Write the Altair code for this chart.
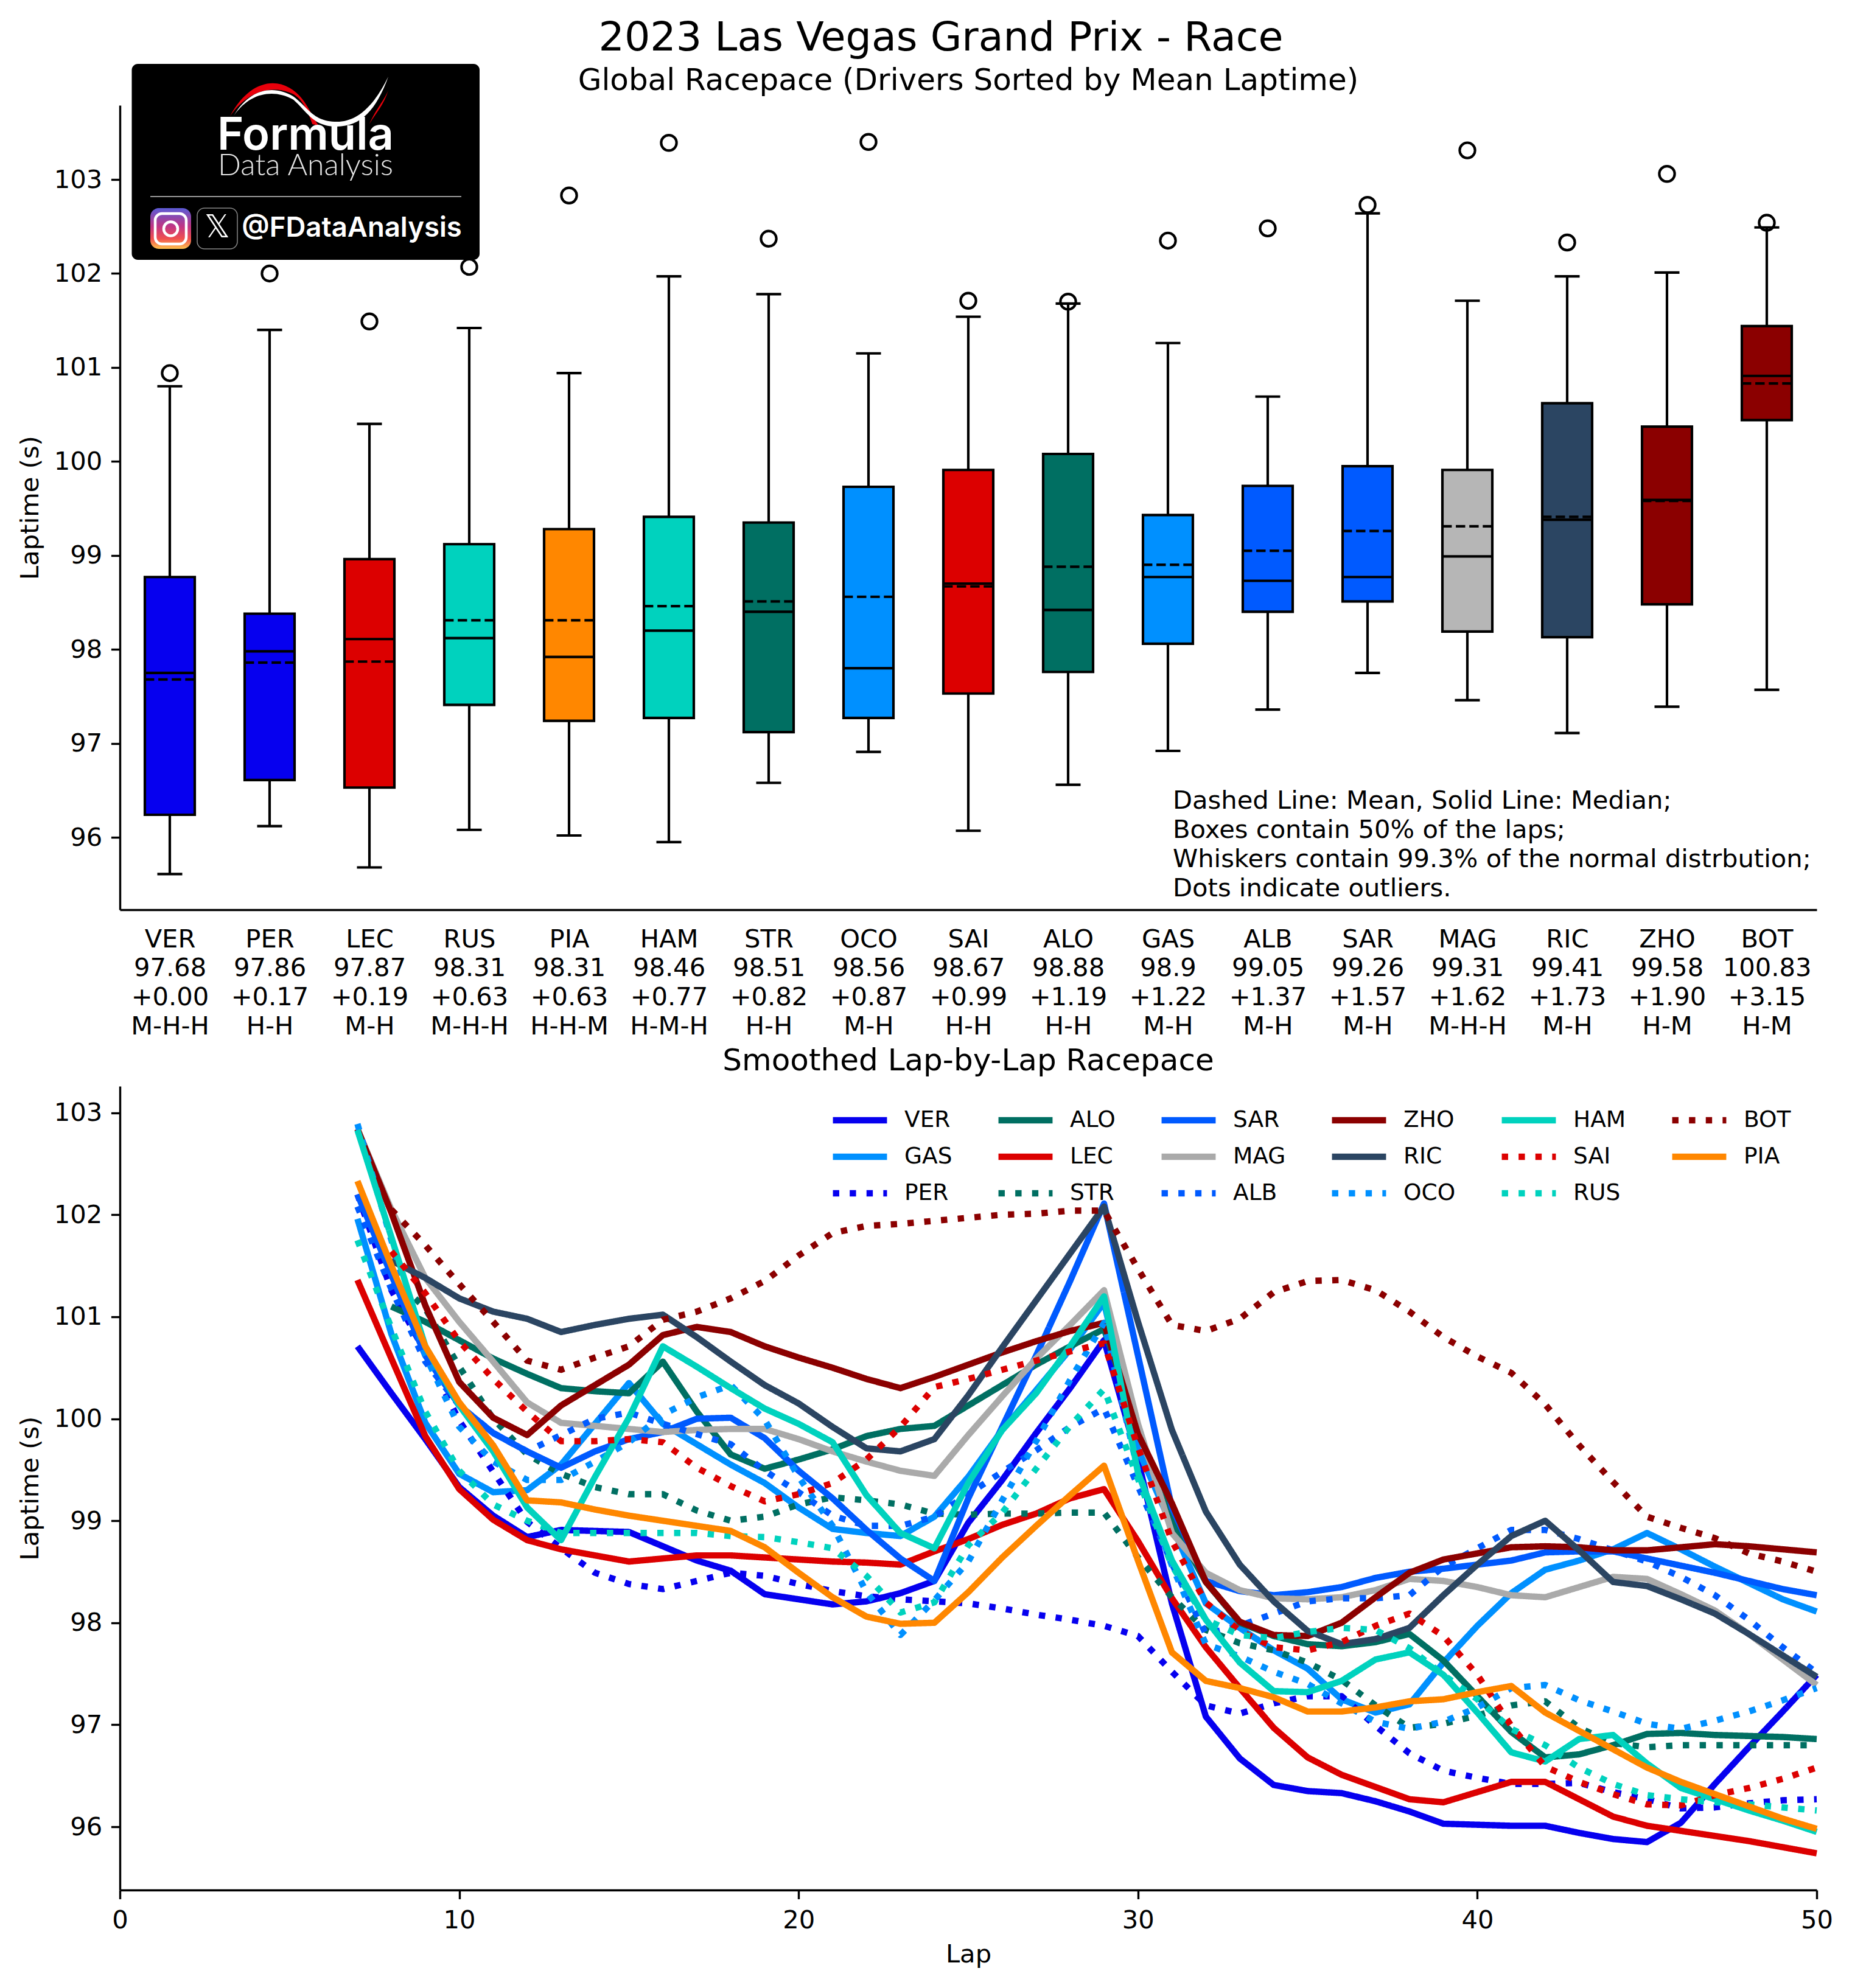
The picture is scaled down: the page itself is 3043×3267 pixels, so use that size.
import json
import altair as alt
import pandas as pd

FONT = "DejaVu Sans"
drivers = ["VER","PER","LEC","RUS","PIA","HAM","STR","OCO","SAI","ALO","GAS","ALB","SAR","MAG","RIC","ZHO","BOT"]
mean_txt = ["97.68","97.86","97.87","98.31","98.31","98.46","98.51","98.56","98.67","98.88","98.9","99.05","99.26","99.31","99.41","99.58","100.83"]
delta_txt = ["+0.00","+0.17","+0.19","+0.63","+0.63","+0.77","+0.82","+0.87","+0.99","+1.19","+1.22","+1.37","+1.57","+1.62","+1.73","+1.90","+3.15"]
tyres = ["M-H-H","H-H","M-H","M-H-H","H-H-M","H-M-H","H-H","M-H","H-H","H-H","M-H","M-H","M-H","M-H-H","M-H","H-M","H-M"]
q1 = [96.24,96.61,96.53,97.41,97.24,97.27,97.12,97.27,97.53,97.76,98.06,98.40,98.51,98.19,98.13,98.48,100.44]
q3 = [98.77,98.38,98.96,99.12,99.28,99.41,99.35,99.73,99.91,100.08,99.43,99.74,99.95,99.91,100.62,100.37,101.44]
median = [97.75,97.98,98.11,98.12,97.92,98.20,98.40,97.80,98.70,98.42,98.77,98.73,98.77,98.99,99.38,99.59,100.91]
mean = [97.68,97.86,97.87,98.31,98.31,98.46,98.51,98.56,98.67,98.88,98.90,99.05,99.26,99.31,99.41,99.58,100.83]
wlo = [95.61,96.12,95.68,96.08,96.02,95.95,96.58,96.91,96.07,96.56,96.92,97.36,97.75,97.46,97.11,97.39,97.57]
whi = [100.80,101.40,100.40,101.42,100.94,101.97,101.78,101.15,101.54,101.68,101.26,100.69,102.64,101.71,101.97,102.01,102.49]
outlier = [100.94,102.00,101.49,102.07,102.83,103.39,102.37,103.40,101.71,101.70,102.35,102.48,102.73,103.31,102.33,103.06,102.54]
colors = {"VER":"#0600ef","PER":"#0600ef","LEC":"#dc0000","SAI":"#dc0000","RUS":"#00d2be","HAM":"#00d2be",
          "PIA":"#ff8700","STR":"#006f62","ALO":"#006f62","OCO":"#0090ff","GAS":"#0090ff","ALB":"#005aff",
          "SAR":"#005aff","MAG":"#aaaaaa","RIC":"#2b4562","ZHO":"#8b0000","BOT":"#8b0000"}
box_colors = dict(colors, MAG="#b6b6b6")

laps = list(range(7, 51))
VER=[100.71,100.25,99.8,99.33,99.05,98.84,98.91,98.9,98.89,98.75,98.61,98.51,98.28,98.23,98.18,98.21,98.29,98.41,98.98,99.4,99.86,100.3,100.77,99.6,98.19,97.08,96.67,96.41,96.35,96.33,96.25,96.15,96.03,96.02,96.01,96.01,95.94,95.88,95.85,96.04,96.42,96.78,97.13,97.49]
GAS=[101.96,100.83,99.96,99.46,99.28,99.3,99.55,99.95,100.35,99.95,99.75,99.55,99.37,99.13,98.92,98.88,98.85,99.04,99.43,99.89,100.28,100.68,101.14,99.7,98.95,98.19,97.95,97.73,97.55,97.25,97.12,97.2,97.61,97.97,98.29,98.52,98.61,98.72,98.88,98.72,98.55,98.39,98.23,98.11]
PER=[102.2,101.26,100.65,99.98,99.48,98.99,98.73,98.49,98.38,98.33,98.41,98.49,98.46,98.38,98.31,98.26,98.23,98.21,98.19,98.14,98.08,98.03,97.97,97.87,97.52,97.19,97.11,97.21,97.28,97.28,96.99,96.72,96.55,96.48,96.42,96.42,96.43,96.34,96.27,96.18,96.19,96.23,96.26,96.27]
ALO=[None,101.1,100.95,100.77,100.59,100.44,100.3,100.27,100.25,100.56,100.07,99.65,99.51,99.6,99.7,99.83,99.9,99.93,100.13,100.33,100.53,100.71,100.88,99.9,99.0,98.4,98.0,97.87,97.79,97.77,97.81,97.89,97.63,97.28,96.93,96.68,96.71,96.8,96.91,96.92,96.9,96.89,96.88,96.86]
LEC=[101.36,100.59,99.83,99.31,99.01,98.81,98.72,98.66,98.6,98.63,98.66,98.66,98.64,98.62,98.6,98.59,98.57,98.7,98.82,98.96,99.07,99.22,99.31,98.8,98.24,97.76,97.36,96.97,96.68,96.51,96.39,96.27,96.24,96.34,96.44,96.44,96.27,96.1,96.01,95.96,95.91,95.86,95.8,95.74]
STR=[None,101.41,101.08,100.51,100.0,99.65,99.46,99.33,99.26,99.26,99.1,99.0,99.04,99.16,99.23,99.2,99.16,99.07,99.06,99.07,99.07,99.08,99.08,98.64,98.25,97.93,97.8,97.73,97.61,97.44,97.19,96.97,97.01,97.09,97.19,97.23,96.97,96.82,96.78,96.8,96.8,96.8,96.8,96.8]
SAR=[102.2,101.41,100.62,100.13,99.86,99.68,99.52,99.68,99.8,99.87,100.0,100.01,99.81,99.49,99.22,98.91,98.63,98.41,99.22,99.92,100.62,101.35,102.11,100.62,99.13,98.41,98.31,98.27,98.3,98.35,98.44,98.5,98.53,98.57,98.61,98.69,98.7,98.7,98.63,98.56,98.49,98.41,98.33,98.27]
MAG=[102.84,102.05,101.38,100.95,100.56,100.16,99.96,99.93,99.9,99.87,99.89,99.9,99.9,99.8,99.68,99.58,99.49,99.44,99.84,100.22,100.59,100.92,101.26,99.95,98.88,98.49,98.32,98.24,98.23,98.25,98.32,98.43,98.41,98.35,98.27,98.25,98.35,98.45,98.43,98.28,98.12,97.89,97.64,97.39]
ALB=[102.08,101.27,100.56,100.13,99.86,99.68,99.84,100.0,100.06,99.95,99.85,99.75,99.49,99.28,99.05,98.95,98.95,99.04,99.26,99.48,99.69,99.92,100.1,99.34,98.58,97.89,97.97,98.09,98.21,98.24,98.24,98.27,98.55,98.73,98.91,98.91,98.82,98.71,98.6,98.45,98.27,98.03,97.76,97.51]
ZHO=[102.84,102.02,101.11,100.36,100.01,99.84,100.13,100.33,100.53,100.82,100.9,100.85,100.71,100.6,100.5,100.39,100.3,100.41,100.53,100.65,100.76,100.86,100.94,99.85,99.17,98.4,98.01,97.88,97.87,98.0,98.25,98.49,98.62,98.68,98.74,98.75,98.74,98.71,98.71,98.74,98.77,98.75,98.72,98.69]
RIC=[None,101.55,101.38,101.18,101.05,100.98,100.85,100.92,100.98,101.02,100.8,100.56,100.33,100.15,99.92,99.71,99.68,99.8,100.23,100.7,101.16,101.62,102.08,100.95,99.89,99.09,98.57,98.21,97.92,97.79,97.84,97.95,98.27,98.57,98.85,99.0,98.71,98.4,98.36,98.23,98.09,97.89,97.68,97.47]
OCO=[102.89,101.75,100.62,99.92,99.58,99.4,99.4,99.58,99.77,100.04,100.21,100.33,99.99,99.43,98.95,98.3,97.88,98.22,98.6,99.2,99.78,100.38,100.94,99.49,98.56,97.79,97.67,97.52,97.4,97.21,97.03,96.96,97.03,97.17,97.36,97.39,97.24,97.13,97.01,96.96,97.04,97.13,97.24,97.36]
HAM=[102.83,101.78,100.71,100.13,99.68,99.13,98.81,99.43,100.01,100.71,100.51,100.3,100.1,99.95,99.77,99.25,98.88,98.73,99.37,99.89,100.25,100.71,101.2,99.47,98.61,98.03,97.61,97.33,97.32,97.43,97.64,97.71,97.49,97.12,96.73,96.64,96.86,96.9,96.62,96.38,96.27,96.16,96.06,95.95]
SAI=[None,101.64,101.23,100.76,100.39,100.07,99.78,99.78,99.8,99.77,99.52,99.34,99.19,99.26,99.37,99.6,99.92,100.31,100.39,100.48,100.57,100.66,100.74,99.72,98.8,98.2,97.92,97.76,97.73,97.81,97.97,98.09,97.87,97.49,96.99,96.59,96.44,96.32,96.22,96.21,96.31,96.38,96.47,96.58]
RUS=[101.75,100.89,100.07,99.49,99.16,99.0,98.88,98.88,98.88,98.88,98.88,98.85,98.84,98.79,98.73,98.46,98.1,98.2,98.76,99.08,99.51,99.93,100.29,99.41,98.56,98.03,97.88,97.85,97.91,97.95,97.93,97.75,97.49,97.25,96.96,96.8,96.58,96.42,96.31,96.27,96.24,96.22,96.19,96.16]
BOT=[None,102.05,101.7,101.32,100.95,100.57,100.48,100.6,100.71,100.97,101.05,101.18,101.35,101.6,101.82,101.89,101.91,101.94,101.97,102.0,102.01,102.04,102.04,101.47,100.92,100.86,100.98,101.24,101.35,101.36,101.26,101.05,100.8,100.61,100.45,100.14,99.74,99.38,99.04,98.93,98.83,98.68,98.6,98.5]
PIA=[102.33,101.5,100.71,100.16,99.74,99.2,99.18,99.11,99.05,99.0,98.95,98.9,98.74,98.49,98.25,98.06,97.99,98.0,98.3,98.64,98.95,99.25,99.54,98.61,97.71,97.43,97.36,97.27,97.13,97.13,97.17,97.23,97.25,97.32,97.38,97.12,96.94,96.76,96.58,96.44,96.32,96.2,96.08,95.98]

series = {"VER":VER,"GAS":GAS,"PER":PER,"ALO":ALO,"LEC":LEC,"STR":STR,"SAR":SAR,"MAG":MAG,"ALB":ALB,
          "ZHO":ZHO,"RIC":RIC,"OCO":OCO,"HAM":HAM,"SAI":SAI,"RUS":RUS,"BOT":BOT,"PIA":PIA}
dotted = ["PER","STR","ALB","OCO","SAI","RUS","BOT"]
legend_order = list(series.keys())
notes = ["Dashed Line: Mean, Solid Line: Median;","Boxes contain 50% of the laps;",
         "Whiskers contain 99.3% of the normal distrbution;","Dots indicate outliers."]

TICK = 41.67
LW = 4.17
SP = 3.4
W, H1, H2 = 2788, 1322, 1321

box = pd.DataFrame({"driver":drivers,"pos":list(range(1,18)),"q1":q1,"q3":q3,"median":median,"mean":mean,
                    "lo":wlo,"hi":whi,"out":outlier})
box["l"] = box.pos-0.25; box["r"] = box.pos+0.25; box["cl"] = box.pos-0.125; box["cr"] = box.pos+0.125
labels = [f"{d}\n{m}\n{x}\n{t}" for d,m,x,t in zip(drivers,mean_txt,delta_txt,tyres)]
label_expr = "split(" + json.dumps(labels) + "[datum.value-1],'\\n')"

xs = alt.Scale(domain=[0.5,17.5], nice=False, zero=False)
ys = alt.Scale(domain=[95.23,103.79], nice=False, zero=False)
X = alt.X("l:Q", scale=xs, title=None,
          axis=alt.Axis(values=list(range(1,18)), labelExpr=label_expr, tickSize=0, labelLineHeight=47.7,
                        labelFontSize=TICK, labelPadding=28, domainWidth=SP, labelColor="black", domainColor="black",
                        grid=False, labelFlush=False, labelOverlap=False, labelFont=FONT, labelBaseline="top"))
Y = alt.Y("q1:Q", scale=ys, title="Laptime (s)",
          axis=alt.Axis(values=list(range(96,104)), format="d", tickSize=14.6, tickWidth=SP, domainWidth=SP, grid=False,
                        labelFontSize=TICK, labelFont=FONT, titleFont=FONT, titleFontSize=TICK, titleFontWeight="normal",
                        labelColor="black", tickColor="black", domainColor="black", titleColor="black",
                        labelPadding=14.6, titlePadding=16.7))
base = alt.Chart(box)
whisk = base.mark_rule(color="black", strokeWidth=LW).encode(x=alt.X("pos:Q", scale=xs), y=alt.Y("lo:Q", scale=ys), y2="hi:Q")
rects = base.mark_rect(stroke="black", strokeWidth=LW).encode(
    x=X, x2="r:Q", y=Y, y2="q3:Q",
    fill=alt.Fill("driver:N", scale=alt.Scale(domain=drivers, range=[box_colors[d] for d in drivers]), legend=None))
caplo = base.mark_rule(color="black", strokeWidth=LW).encode(x=alt.X("cl:Q", scale=xs), x2="cr:Q", y=alt.Y("lo:Q", scale=ys))
caphi = base.mark_rule(color="black", strokeWidth=LW).encode(x=alt.X("cl:Q", scale=xs), x2="cr:Q", y=alt.Y("hi:Q", scale=ys))
med = base.mark_rule(color="black", strokeWidth=LW).encode(x=alt.X("l:Q", scale=xs), x2="r:Q", y=alt.Y("median:Q", scale=ys))
mn = base.mark_rule(color="black", strokeWidth=LW, strokeDash=[15.4,6.7]).encode(x=alt.X("l:Q", scale=xs), x2="r:Q", y=alt.Y("mean:Q", scale=ys))
outp = base.mark_point(shape="circle", size=640, filled=False, color="black", strokeWidth=LW, opacity=1).encode(
    x=alt.X("pos:Q", scale=xs), y=alt.Y("out:Q", scale=ys))

one = alt.Data(values=[{"a":1}])
def label(txt, x, y, size, color="black", align="center", font=FONT, weight="normal", baseline="alphabetic"):
    return alt.Chart(one).mark_text(text=txt, fontSize=size, color=color, align=align, font=font, fontWeight=weight, baseline=baseline).encode(
        x=alt.value(x), y=alt.value(y))
def rect(x, x2, y, y2, **kw):
    return alt.Chart(one).mark_rect(**kw).encode(x=alt.value(x), x2=alt.value(x2), y=alt.value(y), y2=alt.value(y2))

O_X, O_Y = 198, 172
title1 = label("2023 Las Vegas Grand Prix - Race", 1547-O_X, 82-O_Y, 66.67)
title2 = label("Global Racepace (Drivers Sorted by Mean Laptime)", 1592-O_X, 147-O_Y, 50)
note_df = pd.DataFrame({"t":notes, "i":[0,1,2,3]})
note_df["yy"] = 1143 + note_df.i*48
note_marks = alt.Chart(note_df).mark_text(fontSize=TICK, align="left", baseline="middle", font=FONT, color="black").encode(
    x=alt.value(1730), y=alt.Y("yy:Q", scale=None), text="t:N")

# logo, positions in pixels relative to the plot
logo_bg = rect(217.5-O_X, 789-O_X, 104-O_Y, 426-O_Y, color="black", cornerRadius=10)
white_swoosh = "M-0.95,0.19 C-0.75,-0.15 -0.45,-0.2 -0.2,-0.05 C0,0.1 0.05,0.27 0.35,0.27 C0.7,0.27 0.9,-0.1 1,-0.3 C0.85,0.12 0.65,0.33 0.35,0.33 C0.05,0.33 -0.02,0.15 -0.2,-0.01 C-0.45,-0.15 -0.75,-0.1 -0.95,0.19 Z"
red_swoosh = "M-1,0.2 C-0.8,-0.18 -0.5,-0.3 -0.25,-0.16 C-0.05,-0.05 0.02,0.18 0.12,0.32 L0.04,0.3 C-0.03,0.1 -0.1,-0.05 -0.25,-0.1 C-0.5,-0.2 -0.8,-0.1 -1,0.2 Z"
red_strip = "M1,-0.13 C0.95,0.05 0.85,0.15 0.76,0.3 C0.85,0.1 0.95,0 1,-0.13 Z"
def glyph(path, color):
    return alt.Chart(one).mark_point(shape=path, size=67600, filled=True, color=color, opacity=1, strokeWidth=0).encode(
        x=alt.value(509-O_X), y=alt.value(164-O_Y))
logo = [logo_bg, glyph(red_swoosh,"#e8000b"), glyph(red_strip,"#e8000b"), glyph(white_swoosh,"white"),
        label("Formula", 503-O_X, 245-O_Y, 74, "white", font="Inter", weight=600),
        label("Data Analysis", 503-O_X, 287-O_Y, 50, "#e6e6e6", font="Lato", weight=300),
        rect(248-O_X, 759-O_X, 321-O_Y, 323-O_Y, color="#999999"),
        rect(248-O_X, 315-O_X, 341-O_Y, 408-O_Y, cornerRadius=14, fill=alt.Gradient(gradient="linear",
             stops=[alt.GradientStop(offset=0,color="#5b5bd6"),alt.GradientStop(offset=0.45,color="#c13584"),
                    alt.GradientStop(offset=0.75,color="#f0504f"),alt.GradientStop(offset=1,color="#ffc34d")],x1=0,x2=0,y1=0,y2=1)),
        alt.Chart(one).mark_rect(cornerRadius=11, fillOpacity=0, stroke="white", strokeWidth=4.5).encode(
            x=alt.value(256-O_X), x2=alt.value(307-O_X), y=alt.value(350-O_Y), y2=alt.value(400-O_Y)),
        alt.Chart(one).mark_point(shape="circle", size=530, filled=False, color="white", strokeWidth=4.5, opacity=1).encode(
            x=alt.value(281.5-O_X), y=alt.value(375-O_Y)),
        alt.Chart(one).mark_rect(cornerRadius=12, fillOpacity=0, stroke="#888888", strokeWidth=1.5).encode(
            x=alt.value(325-O_X), x2=alt.value(391-O_X), y=alt.value(341-O_Y), y2=alt.value(408-O_Y)),
        label("\U0001D54F", 358-O_X, 389-O_Y, 52, "white"),
        label("@FDataAnalysis", 579-O_X, 388-O_Y, 45.5, "white", font="Inter", weight=600)]

top = alt.layer(whisk, rects, caplo, caphi, med, mn, outp, note_marks, title1, title2, *logo).properties(width=W, height=H1)

# lower panel
rows = []
for d, vals in series.items():
    rows += [{"driver":d,"lap":l,"t":v} for l, v in zip(laps, vals) if v is not None]
long = pd.DataFrame(rows)
lines = alt.Chart(long).mark_line(strokeWidth=10.4, strokeCap="butt", strokeJoin="round").encode(
    x=alt.X("lap:Q", scale=alt.Scale(domain=[0,50], nice=False, zero=False), title="Lap",
            axis=alt.Axis(values=[0,10,20,30,40,50], format="d", tickSize=14.6, tickWidth=SP, domainWidth=SP, grid=False,
                          labelFontSize=TICK, labelFont=FONT, titleFont=FONT, titleFontSize=TICK, titleFontWeight="normal",
                          labelColor="black", tickColor="black", domainColor="black", titleColor="black",
                          labelPadding=14.6, titlePadding=14.6, labelFlush=False)),
    y=alt.Y("t:Q", scale=alt.Scale(domain=[95.38,103.26], nice=False, zero=False), title="Laptime (s)",
            axis=alt.Axis(values=list(range(96,104)), format="d", tickSize=14.6, tickWidth=SP, domainWidth=SP, grid=False,
                          labelFontSize=TICK, labelFont=FONT, titleFont=FONT, titleFontSize=TICK, titleFontWeight="normal",
                          labelColor="black", tickColor="black", domainColor="black", titleColor="black",
                          labelPadding=14.6, titlePadding=16.7)),
    color=alt.Color("driver:N", scale=alt.Scale(domain=legend_order, range=[colors[d] for d in legend_order]),
                    legend=alt.Legend(title=None, orient="none", legendX=1166, legendY=1638, columns=6, symbolType="stroke",
                                      symbolSize=7900, symbolStrokeWidth=10.4, labelFontSize=37.5, labelFont=FONT, labelColor="black",
                                      clipHeight=60, rowPadding=0, columnPadding=70, labelOffset=23, padding=0)),
    strokeDash=alt.StrokeDash("driver:N", scale=alt.Scale(domain=legend_order, range=[[10.4,17.2] if d in dotted else [1,0] for d in legend_order]), legend=alt.Legend(title=None)),
    detail="driver:N",
)
title3 = label("Smoothed Lap-by-Lap Racepace", W/2, -26, 50)
bottom = alt.layer(lines, title3).properties(width=W, height=H2)

chart = alt.vconcat(top, bottom, spacing=290, bounds="flush", padding={"left":21,"top":22,"right":0,"bottom":10}).configure_view(stroke=None)
chart.save("out.html", embed_options={"renderer": "svg", "actions": False})
